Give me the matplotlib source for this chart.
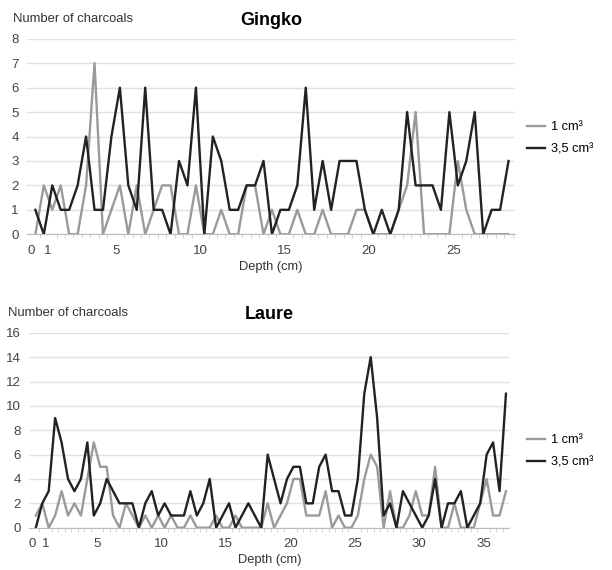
import matplotlib.pyplot as plt
import numpy as np

plt.rcParams['font.family'] = ['Liberation Sans', 'DejaVu Sans']

# Gingko: 0.5 cm slices, plotted at slice mid-depth
gingko_1cm = [0, 2, 1, 2, 0, 0, 2, 7, 0, 1, 2, 0, 2, 0, 1, 2, 2, 0, 0, 2,
              0, 0, 1, 0, 0, 2, 2, 0, 1, 0, 0, 1, 0, 0, 1, 0, 0, 0, 1, 1,
              0, 0, 0, 1, 2, 5, 0, 0, 0, 0, 3, 1, 0, 0, 0, 0, 0]
gingko_35cm = [1, 0, 2, 1, 1, 2, 4, 1, 1, 4, 6, 2, 1, 6, 1, 1, 0, 3, 2, 6,
               0, 4, 3, 1, 1, 2, 2, 3, 0, 1, 1, 2, 6, 1, 3, 1, 3, 3, 3, 1,
               0, 1, 0, 1, 5, 2, 2, 2, 1, 5, 2, 3, 5, 0, 1, 1, 3]

# Laure
laure_1cm = [1, 2, 0, 1, 3, 1, 2, 1, 4, 7, 5, 5, 1, 0, 2, 1, 0, 1, 0, 1,
             0, 1, 0, 0, 1, 0, 0, 0, 1, 0, 0, 1, 0, 0, 0, 0,
             2, 0, 1, 2, 4, 4, 1, 1, 1, 3, 0, 1, 0, 0, 1, 4, 6, 5, 0, 3,
             0, 0, 1, 3, 1, 1, 5, 0, 0, 2, 0, 0, 0, 2, 4, 1, 1, 3]
laure_35cm = [0, 2, 3, 9, 7, 4, 3, 4, 7, 1, 2, 4, 3, 2, 2, 2, 0, 2, 3, 1,
              2, 1, 1, 1, 3, 1, 2, 4, 0, 1, 2, 0, 1, 2, 1, 0,
              6, 4, 2, 4, 5, 5, 2, 2, 5, 6, 3, 3, 1, 1, 4, 11, 14, 9, 1, 2,
              0, 3, 2, 1, 0, 1, 4, 0, 2, 2, 3, 0, 1, 2, 6, 7, 3, 11]

labels = ['1 cm³', '3,5 cm³']
gray = '#9a9a9a'
black = '#222222'


def panel(ax, s1, s2, title, ymax, ystep, xmax, xticks, ylab_x):
    depth = 0.25 + 0.5 * np.arange(len(s1))
    ax.plot(depth, s1, color=gray, lw=1.7, label=labels[0])
    ax.plot(depth, s2, color=black, lw=1.7, label=labels[1])
    ax.set_xlim(-0.25, xmax)
    ax.set_ylim(0, ymax)
    ax.set_yticks(np.arange(0, ymax + 1, ystep))
    ax.set_xticks(xticks)
    ax.set_xticks(np.arange(0, xmax, 0.5), minor=True)
    ax.grid(axis='y', color='#e0e0e0', lw=1)
    ax.set_axisbelow(True)
    for side in ['left', 'right', 'top']:
        ax.spines[side].set_visible(False)
    ax.spines['bottom'].set_color('#bbbbbb')
    ax.tick_params(axis='y', length=0, labelsize=9.5, labelcolor='#444444', pad=6)
    ax.tick_params(axis='x', which='major', length=0, labelsize=9.5,
                   labelcolor='#444444', pad=7.5)
    ax.tick_params(axis='x', which='minor', length=3, color='#cccccc')
    ax.set_xlabel('Depth (cm)', fontsize=9.3, color='#333333', labelpad=3)
    ax.set_title(title, fontsize=13, fontweight='bold', pad=10)
    ax.text(ylab_x, 1.10, 'Number of charcoals', transform=ax.transAxes,
            fontsize=9.4, color='#333333', ha='left', va='center')


fig = plt.figure(figsize=(6.12, 5.70), dpi=100)

ax1 = fig.add_axes([0.044, 0.589, 0.798, 0.343])
panel(ax1, gingko_1cm, gingko_35cm, 'Gingko', 8, 1, 28.65,
      [0, 1, 5, 10, 15, 20, 25], -0.029)
fig.legend(*ax1.get_legend_handles_labels(), loc='center left',
           bbox_to_anchor=(0.861, 0.757), frameon=False, fontsize=9.2,
           handlelength=1.4, handletextpad=0.5, labelspacing=0.8,
           borderaxespad=0, borderpad=0)

ax2 = fig.add_axes([0.048, 0.0742, 0.784, 0.342])
panel(ax2, laure_1cm, laure_35cm, 'Laure', 16, 2, 37.0,
      [0, 1, 5, 10, 15, 20, 25, 30, 35], -0.044)
fig.legend(*ax2.get_legend_handles_labels(), loc='center left',
           bbox_to_anchor=(0.861, 0.208), frameon=False, fontsize=9.2,
           handlelength=1.4, handletextpad=0.5, labelspacing=0.8,
           borderaxespad=0, borderpad=0)

fig.savefig('out.png', dpi=100)
